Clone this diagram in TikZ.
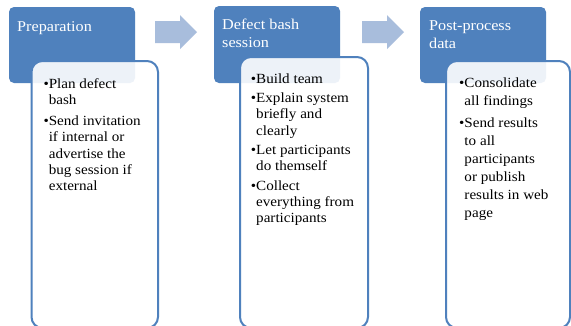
\documentclass[tikz,border=0pt]{standalone}
\usepackage{fontspec}
\setmainfont{Liberation Serif}[FakeStretch=1.08]
\definecolor{accent}{RGB}{79,129,189}
\definecolor{chevron}{RGB}{168,189,220}
\begin{document}
\begin{tikzpicture}[x=1pt,y=-1pt,
  header/.style={fill=accent, rounded corners=5pt},
  panel/.style={draw=accent, line width=2pt, fill=white, fill opacity=0.9, rounded corners=11pt},
  flow/.style={fill=chevron},
  title/.style={text=white, font=\fontsize{15}{18}\selectfont, inner sep=0pt, align=left},
  items/.style={text=black, font=\fontsize{14}{16.3}\selectfont, inner sep=0pt, align=left},
]
\clip (0,0) rectangle (571,325);
\fill[white] (0,0) rectangle (571,325);

% stage headers
\path[header] (9,7) rectangle (135,83);
\path[header] (214,6) rectangle (340,83);
\path[header] (420,7) rectangle (546,83);

% detail panels, running past the bottom edge
\path[panel] (31.5,61) rectangle (158,328);
\path[panel] (240,57) rectangle (368,328);
\path[panel] (446,61) rectangle (570,328);

% flow arrows between stages
\fill[flow] (155,21) -- (180,21) -- (180,15) -- (197,32) -- (180,49) -- (180,43) -- (155,43) -- cycle;
\fill[flow] (362,21) -- (387,21) -- (387,15) -- (404,32) -- (387,49) -- (387,43) -- (362,43) -- cycle;

% stage titles
\node[title, anchor=base west] (t1) at (17,31) {Preparation};
\node[title, anchor=north west] (t2) at (222,18.8) {Defect bash\\session};
\node[title, anchor=north west] (t3) at (429,20.1) {Post-process\\data};

% stage items
\node[items, anchor=north west] (b1) at (43.3,78.1)
  {\textbullet Plan defect\\\hphantom{\textbullet}bash\\[4.7pt]
   \textbullet Send invitation\\\hphantom{\textbullet}if internal or\\
   \hphantom{\textbullet}advertise the\\\hphantom{\textbullet}bug session if\\
   \hphantom{\textbullet}external};
\node[items, anchor=north west] (b2) at (250.7,73.4)
  {\textbullet Build team\\[3pt]
   \textbullet Explain system\\\hphantom{\textbullet}briefly and\\\hphantom{\textbullet}clearly\\[3pt]
   \textbullet Let participants\\\hphantom{\textbullet}do themself\\[3pt]
   \textbullet Collect\\\hphantom{\textbullet}everything from\\\hphantom{\textbullet}participants};
\node[items, font=\fontsize{14}{18}\selectfont, anchor=north west] (b3) at (459,77.7)
  {\textbullet Consolidate\\\hphantom{\textbullet}all findings\\[4pt]
   \textbullet Send results\\\hphantom{\textbullet}to all\\\hphantom{\textbullet}participants\\
   \hphantom{\textbullet}or publish\\\hphantom{\textbullet}results in web\\\hphantom{\textbullet}page};
\end{tikzpicture}
\end{document}
